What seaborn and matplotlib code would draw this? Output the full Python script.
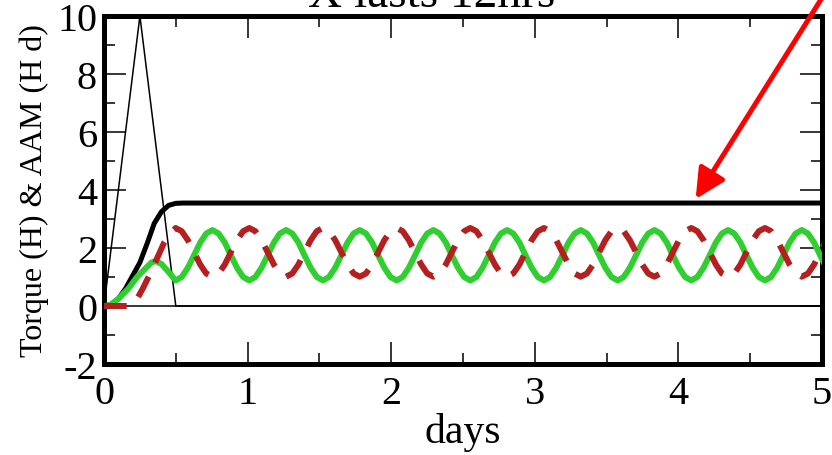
import matplotlib
matplotlib.use("Agg")
import matplotlib.pyplot as plt
import seaborn as sns
import pandas as pd

sns.set_style("ticks")
plt.rcParams['font.family'] = ['Liberation Serif', 'DejaVu Serif']
plt.rcParams['axes.unicode_minus'] = False
plt.rcParams['axes.labelcolor'] = 'black'
plt.rcParams['text.color'] = 'black'

# ---------------- data ----------------
torque_days = [0.0, 0.25, 0.5, 5.0]
torque_vals = [0.0, 10.0, 0.0, 0.0]

total_days = [0.0, 0.05, 0.10, 0.15, 0.20, 0.25, 0.30, 0.35, 0.40, 0.45, 0.50, 0.55, 5.0]
total_vals = [0.0, 0.05, 0.25, 0.60, 1.05, 1.50, 2.15, 2.85, 3.25, 3.47, 3.54, 3.55, 3.55]

green_early_days = [0.0, 0.04, 0.10, 0.17, 0.23, 0.29, 0.33, 0.36, 0.40, 0.45]
green_early_vals = [0.0, 0.02, 0.25, 0.60, 1.00, 1.30, 1.50, 1.55, 1.45, 1.17]

red_early_days = [0.0, 0.17, 0.22, 0.27, 0.32, 0.37, 0.42, 0.46]
red_early_vals = [0.0, 0.0, 0.15, 0.60, 1.10, 1.65, 2.20, 2.50]

osc_days = [
    0.499, 0.541, 0.584, 0.627, 0.670, 0.712, 0.755, 0.798, 0.841, 0.883, 0.926, 0.969,
    1.012, 1.054, 1.097, 1.140, 1.183, 1.225, 1.268, 1.311, 1.354, 1.396, 1.439, 1.482,
    1.525, 1.567, 1.610, 1.653, 1.696, 1.738, 1.781, 1.824, 1.867, 1.909, 1.952, 1.995,
    2.038, 2.080, 2.123, 2.166, 2.209, 2.251, 2.294, 2.337, 2.380, 2.422, 2.465, 2.508,
    2.551, 2.593, 2.636, 2.679, 2.722, 2.764, 2.807, 2.850, 2.893, 2.935, 2.978, 3.021,
    3.064, 3.106, 3.149, 3.192, 3.235, 3.277, 3.320, 3.363, 3.406, 3.448, 3.491, 3.534,
    3.577, 3.619, 3.662, 3.705, 3.748, 3.790, 3.833, 3.876, 3.919, 3.961, 4.004, 4.047,
    4.090, 4.132, 4.175, 4.218, 4.261, 4.303, 4.346, 4.389, 4.432, 4.474, 4.517, 4.560,
    4.603, 4.645, 4.688, 4.731, 4.774, 4.816, 4.859, 4.902, 4.945, 4.987, 5.030,
]
green_osc_vals = [
    0.88, 1.00, 1.32, 1.75, 2.19, 2.50, 2.62, 2.50, 2.19, 1.75, 1.32, 1.00,
    0.88, 1.00, 1.32, 1.75, 2.19, 2.50, 2.62, 2.50, 2.19, 1.75, 1.32, 1.00,
    0.88, 1.00, 1.32, 1.75, 2.19, 2.50, 2.62, 2.50, 2.19, 1.75, 1.32, 1.00,
    0.88, 1.00, 1.32, 1.75, 2.19, 2.50, 2.62, 2.50, 2.19, 1.75, 1.32, 1.00,
    0.88, 1.00, 1.32, 1.75, 2.19, 2.50, 2.62, 2.50, 2.19, 1.75, 1.32, 1.00,
    0.88, 1.00, 1.32, 1.75, 2.19, 2.50, 2.62, 2.50, 2.19, 1.75, 1.32, 1.00,
    0.88, 1.00, 1.32, 1.75, 2.19, 2.50, 2.62, 2.50, 2.19, 1.75, 1.32, 1.00,
    0.88, 1.00, 1.32, 1.75, 2.19, 2.50, 2.62, 2.50, 2.19, 1.75, 1.32, 1.00,
    0.88, 1.00, 1.32, 1.75, 2.19, 2.50, 2.62, 2.50, 2.19, 1.75, 1.32,
]
red_osc_vals = [
    2.69, 2.58, 2.27, 1.85, 1.43, 1.12, 1.01, 1.12, 1.43, 1.85, 2.27, 2.58,
    2.69, 2.58, 2.27, 1.85, 1.43, 1.12, 1.01, 1.12, 1.43, 1.85, 2.27, 2.58,
    2.69, 2.58, 2.27, 1.85, 1.43, 1.12, 1.01, 1.12, 1.43, 1.85, 2.27, 2.58,
    2.69, 2.58, 2.27, 1.85, 1.43, 1.12, 1.01, 1.12, 1.43, 1.85, 2.27, 2.58,
    2.69, 2.58, 2.27, 1.85, 1.43, 1.12, 1.01, 1.12, 1.43, 1.85, 2.27, 2.58,
    2.69, 2.58, 2.27, 1.85, 1.43, 1.12, 1.01, 1.12, 1.43, 1.85, 2.27, 2.58,
    2.69, 2.58, 2.27, 1.85, 1.43, 1.12, 1.01, 1.12, 1.43, 1.85, 2.27, 2.58,
    2.69, 2.58, 2.27, 1.85, 1.43, 1.12, 1.01, 1.12, 1.43, 1.85, 2.27, 2.58,
    2.69, 2.58, 2.27, 1.85, 1.43, 1.12, 1.01, 1.12, 1.43, 1.85, 2.27,
]

x_ticks = [0, 1, 2, 3, 4, 5]
y_ticks = [-2, 0, 2, 4, 6, 8, 10]
title_text = "X lasts 12hrs"
x_label = "days"
y_label = "Torque (H) & AAM (H d)"

# arrow annotation (tip and tail in data units)
arrow_tip = (4.12, 3.69)
arrow_tail = (5.06, 11.1)

# ---------------- figure ----------------
fig = plt.figure(figsize=(8.32, 4.56), dpi=100)
ax = fig.add_axes([104 / 832, 1 - 365 / 456, (822 - 104) / 832, (365 - 17) / 456])

df_torque = pd.DataFrame({"days": torque_days, "val": torque_vals})
df_total = pd.DataFrame({"days": total_days, "val": total_vals})
df_green = pd.DataFrame({"days": green_early_days + osc_days,
                         "val": green_early_vals + green_osc_vals})
df_red = pd.DataFrame({"days": red_early_days + osc_days,
                       "val": red_early_vals + red_osc_vals})

ax.axhline(0, color="black", lw=1.1, zorder=1)
sns.lineplot(data=df_torque, x="days", y="val", ax=ax, color="black", lw=1.1,
             sort=False, estimator=None, zorder=2)
sns.lineplot(data=df_total, x="days", y="val", ax=ax, color="black", lw=3.6,
             sort=False, estimator=None, zorder=3)
sns.lineplot(data=df_green, x="days", y="val", ax=ax, color="#2fcf2f", lw=4.3,
             sort=False, estimator=None, zorder=4)
sns.lineplot(data=df_red, x="days", y="val", ax=ax, color="#b51f1f", lw=4.3,
             sort=False, estimator=None, zorder=5)
ax.lines[-1].set_dashes([3.8, 2.6])
ax.lines[-1].set_dash_capstyle("butt")

ax.set_xlim(0, 5)
ax.set_ylim(-2, 10)
ax.set_xticks(x_ticks)
ax.set_yticks(y_ticks)
ax.set_xticks([0.5, 1.5, 2.5, 3.5, 4.5], minor=True)
ax.set_yticks([-1, 1, 3, 5, 7, 9], minor=True)
ax.tick_params(which="both", direction="in", top=True, right=True,
               width=1.1, labelsize=29, colors="black")
ax.tick_params(which="major", length=15.5, pad=5)
ax.tick_params(axis="x", which="major", pad=8)
ax.tick_params(which="minor", length=8)
for s in ax.spines.values():
    s.set_linewidth(3.6)
    s.set_color("black")
    s.set_visible(True)

ax.set_xlabel(x_label, fontsize=30, labelpad=0, color="black")
ax.set_ylabel(y_label, fontsize=23, labelpad=6, color="black")

fig.text(432 / 832, 1 - 7 / 456, title_text, fontsize=34, ha="center",
         va="baseline", color="black")

ax.annotate("", xy=arrow_tip, xytext=arrow_tail, xycoords="data",
            textcoords="data", annotation_clip=False,
            arrowprops=dict(arrowstyle="-|>,head_length=0.9,head_width=0.45",
                            color="#ff0000", lw=3.6, mutation_scale=20,
                            shrinkA=0, shrinkB=0))

fig.savefig("out.png", dpi=100)
